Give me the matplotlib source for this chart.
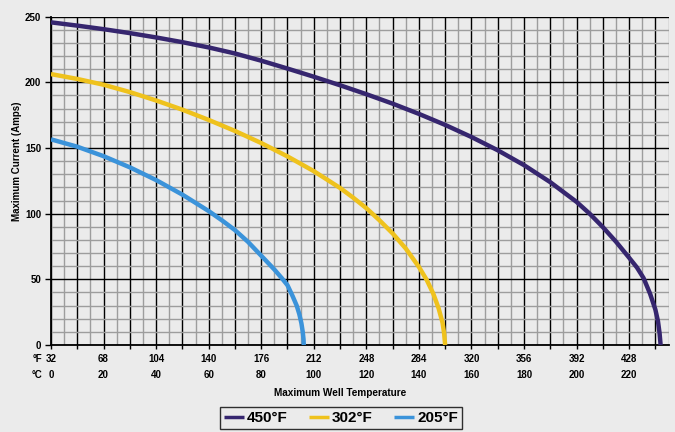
import matplotlib
matplotlib.use("Agg")
import matplotlib.pyplot as plt
from matplotlib import font_manager
from matplotlib.ticker import MultipleLocator

# Prefer the regular-width Liberation Sans Bold face (not the Narrow variant)
bold_path = None
for p in font_manager.findSystemFonts():
    name = p.replace('\\', '/').split('/')[-1]
    if name == 'LiberationSans-Bold.ttf':
        bold_path = p
        break
if bold_path:
    font_manager.fontManager.addfont(bold_path)
    fam = font_manager.FontProperties(fname=bold_path).get_name()
    plt.rcParams['font.family'] = [fam, 'DejaVu Sans']
else:
    plt.rcParams['font.family'] = ['Liberation Sans', 'DejaVu Sans']


def bold(size):
    if bold_path:
        return font_manager.FontProperties(fname=bold_path, size=size)
    return font_manager.FontProperties(family='Liberation Sans', weight='bold', size=size)


# Maximum current (A) versus well temperature (deg C) for three cable ratings
temp_450 = [0, 10, 20, 30, 40, 50, 60, 70, 80, 90, 100, 110, 120, 130, 140, 150,
            160, 170, 180, 190, 200, 205, 210, 215, 220, 223, 225.5, 228, 230, 231,
            231.6, 232]
amps_450 = [245.7, 243.2, 240.5, 237.5, 234.2, 230.6, 226.6, 222.0, 216.5, 210.5, 204.3,
            197.8, 191.0, 183.8, 176.0, 167.6, 158.4, 148.3, 137.0, 124.0, 109.0, 100.0,
            89.8, 78.7, 66.5, 59.0, 51.0, 39.0, 27.0, 18.0, 9.0, 0.0]

temp_302 = [0, 10, 20, 30, 40, 50, 60, 70, 80, 90, 100, 110, 115, 120, 125, 130, 135,
            140, 143, 145.5, 147.5, 149, 149.6, 150]
amps_302 = [206.3, 202.6, 198.2, 192.6, 186.2, 179.2, 171.4, 163.0, 153.8, 143.6, 132.4,
            119.6, 112.2, 104.2, 95.0, 85.0, 73.5, 59.5, 49.5, 39.0, 28.0, 17.0, 9.0, 0.0]

temp_205 = [0, 10, 20, 30, 40, 50, 60, 65, 70, 75, 80, 85, 88, 90, 92, 93.5, 94.5,
            95.3, 95.8, 96.1, 96.2]
amps_205 = [156.6, 151.0, 143.8, 135.3, 125.6, 114.5, 102.0, 95.0, 87.5, 78.5, 68.0,
            57.5, 50.5, 45.5, 37.0, 30.0, 23.5, 16.5, 10.0, 4.5, 0.0]

series_labels = ['450°F', '302°F', '205°F']
series_colors = ['#36266f', '#efc21d', '#3b93da']

celsius_ticks = list(range(0, 221, 20))
fahrenheit_ticks = [round(c * 9 / 5 + 32) for c in celsius_ticks]
amp_ticks = list(range(0, 251, 50))

bg = '#ebebeb'
fig = plt.figure(figsize=(6.75, 4.32), dpi=100, facecolor=bg)
ax = fig.add_axes([51 / 675, 1 - 345 / 432, (668.5 - 51) / 675, (345 - 16.7) / 432])
ax.set_facecolor(bg)

ax.set_xlim(0, 235)
ax.set_ylim(0, 250)

# Graph-paper grid: black majors, grey minors
ax.xaxis.set_major_locator(MultipleLocator(10))
ax.xaxis.set_minor_locator(MultipleLocator(5))
ax.set_yticks(amp_ticks)
ax.yaxis.set_minor_locator(MultipleLocator(10))
ax.grid(which='minor', color='#9d9d9d', linewidth=1.0, zorder=0)
ax.grid(which='major', color='#000000', linewidth=1.0, zorder=0.5)
ax.set_axisbelow(True)

for temps, amps, lab, col in zip([temp_450, temp_302, temp_205],
                                 [amps_450, amps_302, amps_205],
                                 series_labels, series_colors):
    ax.plot(temps, amps, color=col, linewidth=3.2, label=lab,
            solid_capstyle='butt', solid_joinstyle='round', zorder=3)

for side in ['top', 'right']:
    ax.spines[side].set_visible(False)
for side in ['left', 'bottom']:
    ax.spines[side].set_color('black')
    ax.spines[side].set_linewidth(1.3)

ax.tick_params(axis='x', which='major', direction='out', length=3, width=1,
               color='black', labelbottom=False)
ax.tick_params(axis='x', which='minor', length=0)
ax.tick_params(axis='y', which='major', direction='out', length=4, width=1,
               color='black', pad=3)
ax.tick_params(axis='y', which='minor', length=0)
ax.set_yticks(amp_ticks)
ax.set_yticklabels([str(a) for a in amp_ticks], fontproperties=bold(7))

# Two rows of temperature labels: Fahrenheit above Celsius
xf = ax.get_xaxis_transform()
for c, f in zip(celsius_ticks, fahrenheit_ticks):
    ax.text(c, -0.0427, str(f), transform=xf, ha='center', va='center',
            fontproperties=bold(7))
    ax.text(c, -0.0915, str(c), transform=xf, ha='center', va='center',
            fontproperties=bold(7))
fig.text(37 / 675, 1 - 359 / 432, '°F', ha='center', va='center', fontproperties=bold(7))
fig.text(37 / 675, 1 - 375 / 432, '°C', ha='center', va='center', fontproperties=bold(7))

fig.text(340.5 / 675, 1 - 393 / 432, 'Maximum Well Temperature', ha='center',
         va='center', fontproperties=bold(7.2))
fig.text(17.5 / 675, 1 - 161 / 432, 'Maximum Current (Amps)', ha='center',
         va='center', rotation=90, fontproperties=bold(7))

leg = fig.legend(loc='lower center', bbox_to_anchor=(341 / 675, 3 / 432), ncol=3,
                 frameon=True, fancybox=False, edgecolor='black', facecolor=bg,
                 prop=bold(11), handlelength=1.3,
                 handletextpad=0.2, columnspacing=1.4, borderpad=0.25,
                 borderaxespad=0)
leg.get_frame().set_linewidth(1.0)
for line in leg.get_lines():
    line.set_linewidth(2.5)

fig.savefig('out.png', dpi=100, facecolor=bg)
